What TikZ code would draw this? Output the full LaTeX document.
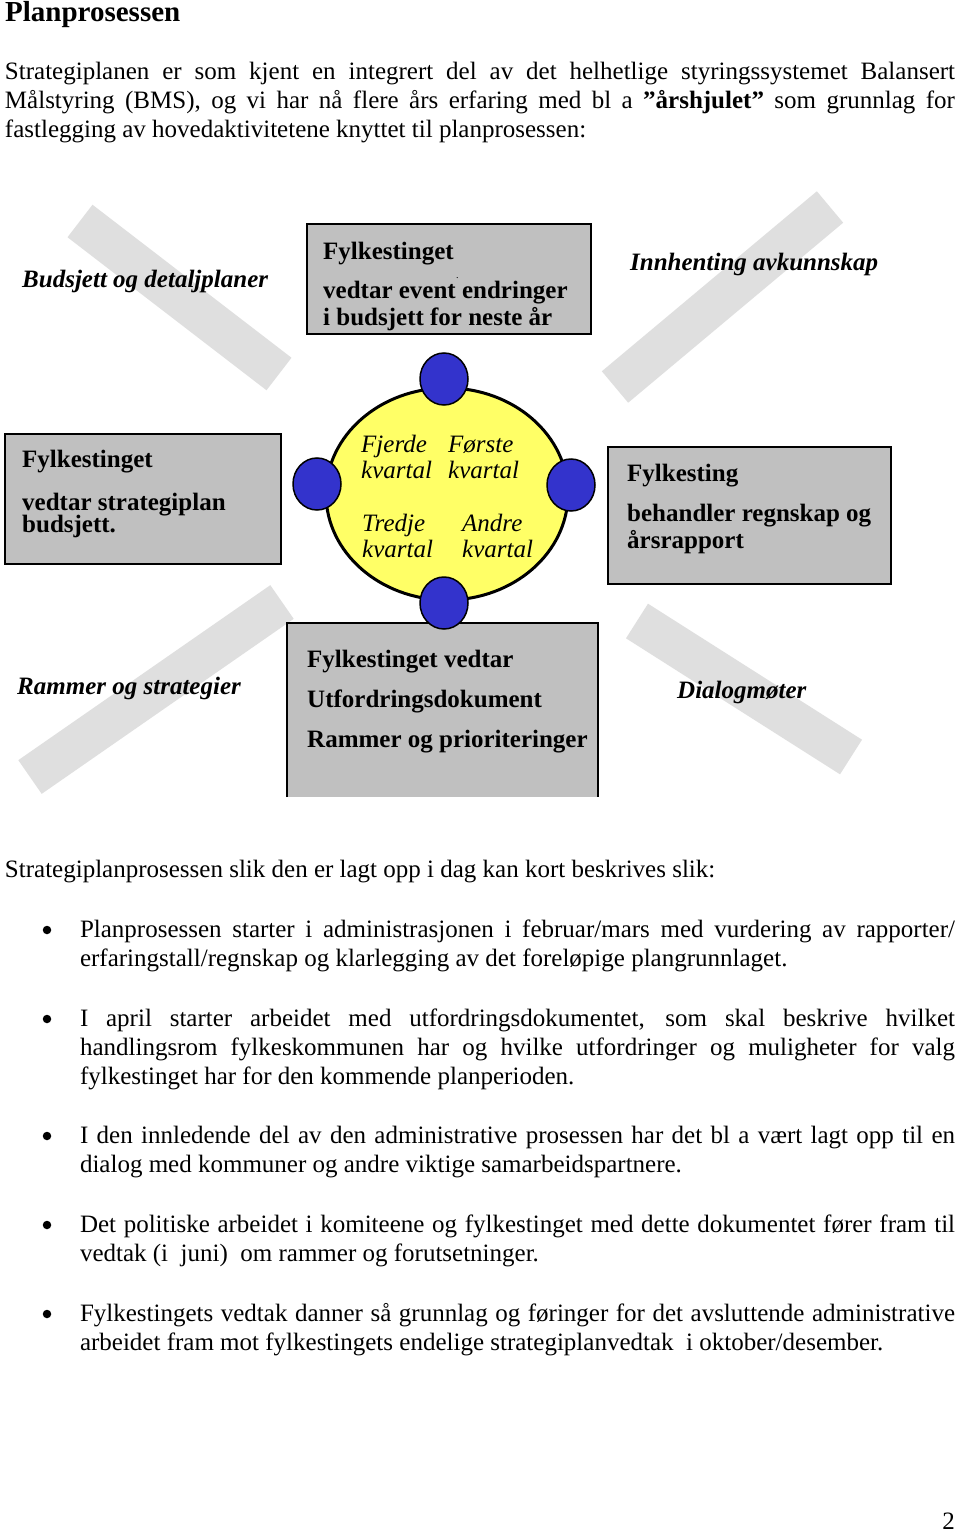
\documentclass[tikz,border=0pt]{standalone}
\usepackage{fontspec}
\usetikzlibrary{shapes.geometric}
\setmainfont{Liberation Serif}
\definecolor{boxgray}{HTML}{C0C0C0}
\definecolor{stripegray}{HTML}{DFDFDF}
\definecolor{wheelyellow}{HTML}{FFFF66}
\definecolor{wheelblue}{HTML}{3333CC}
\begin{document}
\begin{tikzpicture}[x=1pt,y=-1pt,
  body/.style={anchor=base west,inner sep=0pt,outer sep=0pt,font=\fontsize{25}{29}\selectfont},
  boxtext/.style={anchor=base west,inner sep=0pt,font=\fontsize{25}{29}\selectfont\bfseries},
  label/.style={anchor=base west,inner sep=0pt,font=\fontsize{25}{29}\selectfont\bfseries\itshape},
  quarter/.style={anchor=base west,inner sep=0pt,font=\fontsize{25}{29}\selectfont\itshape},
  graybox/.style={draw=black,line width=1.5pt,fill=boxgray,inner sep=0pt,outer sep=0pt},
  stripe/.style={draw=stripegray,line width=41pt,line cap=butt},
  knob/.style={ellipse,draw=black,line width=1.5pt,fill=wheelblue,minimum width=48pt,minimum height=52pt,inner sep=0pt},
  bul/.style={circle,fill=black,inner sep=0pt,minimum size=8.5pt}
]
\useasboundingbox (0,0) rectangle (960,1533);
\fill[white] (0,0) rectangle (960,1533);

% title and intro
\node[anchor=base west,inner sep=0pt,font=\fontsize{29}{33}\selectfont\bfseries] (title) at (5,21.5) {Planprosessen};
\node[body] (p1) at (5,79.5) {\makebox[950pt][s]{Strategiplanen er som kjent en integrert del av det helhetlige styringssystemet Balansert}};
\node[body] (p2) at (5,108.5) {\makebox[950pt][s]{Målstyring (BMS), og vi har nå flere års erfaring med bl a \textbf{”årshjulet”} som grunnlag for}};
\node[body] (p3) at (5,137.5) {fastlegging av hovedaktivitetene knyttet til planprosessen:};

% gray stripes
\coordinate (s1a) at (80,221);  \coordinate (s1b) at (279,374);
\coordinate (s2a) at (830,207); \coordinate (s2b) at (615,387);
\coordinate (s3a) at (282,602); \coordinate (s3b) at (30,777);
\coordinate (s4a) at (637,621); \coordinate (s4b) at (851,757);
\draw[stripe] (s1a) -- (s1b);
\draw[stripe] (s2a) -- (s2b);
\draw[stripe] (s3a) -- (s3b);
\draw[stripe] (s4a) -- (s4b);

% stripe labels
\node[label] (lbud) at (22,287) {Budsjett og detaljplaner};
\node[label] (linn) at (630,270) {Innhenting avkunnskap};
\node[label] (lram) at (17,694) {Rammer og strategier};
\node[label] (ldia) at (677,698) {Dialogmøter};

% boxes
\node[graybox,minimum width=284pt,minimum height=110pt] (topbox) at (449,279) {};
\node[boxtext] (t1) at (323,259) {Fylkestinget};
\node[anchor=base west,inner sep=0pt,font=\fontsize{10}{10}\selectfont] (tdot) at (456,278) {.};
\node[boxtext] (t2) at (323,298) {vedtar event endringer};
\node[boxtext] (t3) at (323,325) {i budsjett for neste år};

\node[graybox,minimum width=276pt,minimum height=130pt] (leftbox) at (143,499) {};
\node[boxtext] (l1) at (22,467) {Fylkestinget};
\node[boxtext] (l2) at (22,510) {vedtar strategiplan};
\node[boxtext] (l3) at (22,532) {budsjett.};

\node[graybox,minimum width=283pt,minimum height=137pt] (rightbox) at (749.5,515.5) {};
\node[boxtext] (r1) at (627,481) {Fylkesting};
\node[boxtext] (r2) at (627,521) {behandler regnskap og};
\node[boxtext] (r3) at (627,548) {årsrapport};

\node[fill=boxgray,inner sep=0pt,outer sep=0pt,minimum width=311pt,minimum height=174pt] (botbox) at (442.5,710) {};
\draw[line width=1.5pt] (botbox.south west) -- (botbox.north west) -- (botbox.north east) -- (botbox.south east);
\node[boxtext] (b1) at (307,667) {Fylkestinget vedtar};
\node[boxtext] (b2) at (307,707) {Utfordringsdokument};
\node[boxtext] (b3) at (307,747) {Rammer og prioriteringer};

% wheel
\node[ellipse,draw=black,line width=3pt,fill=wheelyellow,minimum width=242pt,minimum height=212pt,inner sep=0pt] (wheel) at (447,494) {};
\node[knob] (ktop) at (444,379) {};
\node[knob] (kleft) at (317,484) {};
\node[knob] (kright) at (571,485) {};
\node[knob] (kbot) at (444,603) {};
\node[quarter] (q4a) at (361,452) {Fjerde};
\node[quarter] (q4b) at (361,478) {kvartal};
\node[quarter] (q1a) at (448,452) {Første};
\node[quarter] (q1b) at (448,478) {kvartal};
\node[quarter] (q3a) at (362,531) {Tredje};
\node[quarter] (q3b) at (362,557) {kvartal};
\node[quarter] (q2a) at (462,531) {Andre};
\node[quarter] (q2b) at (462,557) {kvartal};

% lower text
\node[body] (intro2) at (5,877) {Strategiplanprosessen slik den er lagt opp i dag kan kort beskrives slik:};

\node[bul] (d1) at (47,930) {};
\node[body] (b1l1) at (80,937) {\makebox[875pt][s]{Planprosessen starter i administrasjonen i februar/mars med vurdering av rapporter/}};
\node[body] (b1l2) at (80,966) {erfaringstall/regnskap og klarlegging av det foreløpige plangrunnlaget.};

\node[bul] (d2) at (47,1019) {};
\node[body] (b2l1) at (80,1026) {\makebox[875pt][s]{I april starter arbeidet med utfordringsdokumentet, som skal beskrive hvilket}};
\node[body] (b2l2) at (80,1055) {\makebox[875pt][s]{handlingsrom fylkeskommunen har og hvilke utfordringer og muligheter for valg}};
\node[body] (b2l3) at (80,1084) {fylkestinget har for den kommende planperioden.};

\node[bul] (d3) at (47,1136) {};
\node[body] (b3l1) at (80,1143) {\makebox[875pt][s]{I den innledende del av den administrative prosessen har det bl a vært lagt opp til en}};
\node[body] (b3l2) at (80,1172) {dialog med kommuner og andre viktige samarbeidspartnere.};

\node[bul] (d4) at (47,1225) {};
\node[body] (b4l1) at (80,1232) {\makebox[875pt][s]{Det politiske arbeidet i komiteene og fylkestinget med dette dokumentet fører fram til}};
\node[body] (b4l2) at (80,1261) {vedtak (i\ \ juni)\ \ om rammer og forutsetninger.};

\node[bul] (d5) at (47,1314) {};
\node[body] (b5l1) at (80,1321) {\makebox[875pt][s]{Fylkestingets vedtak danner så grunnlag og føringer for det avsluttende administrative}};
\node[body] (b5l2) at (80,1350) {arbeidet fram mot fylkestingets endelige strategiplanvedtak\ \ i oktober/desember.};

\node[anchor=base east,inner sep=0pt,font=\fontsize{25}{29}\selectfont] (pageno) at (955,1529) {2};
\end{tikzpicture}
\end{document}
